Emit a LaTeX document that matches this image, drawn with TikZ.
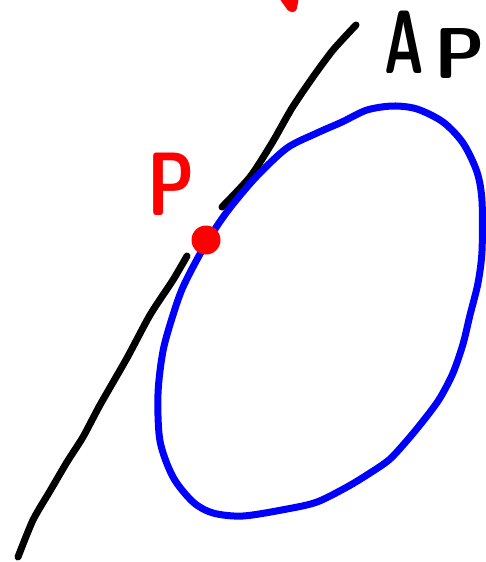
\documentclass[tikz,border=0pt]{standalone}
\usepackage{tikz}
\usetikzlibrary{positioning}

\begin{document}
\begin{tikzpicture}[x=1pt,y=-1pt,
  pen/.style={line width=7pt,line cap=round,line join=round},
  hand/.style={inner sep=0pt,font=\fontsize{90}{90}\selectfont\sffamily\bfseries}]
  \useasboundingbox (0,0) rectangle (485,562);
  % tangent line, broken at the point
  \draw[pen] plot[smooth,tension=0.4] coordinates {(18,557) (33,520) (50,491) (67,462)
    (83,437) (100,405) (127,358) (150,315) (173,280) (187,256)};
  \draw[pen] plot[smooth,tension=0.4] coordinates {(222,207) (250,177) (272,143)
    (292,108) (313,77) (333,50) (356,25)};
  % curve
  \draw[pen,blue] plot[smooth cycle,tension=0.5] coordinates {(393,106) (417,109)
    (443,122) (463,143) (477,172) (482,201) (482,251) (478,283) (470,315) (463,344)
    (453,373) (440,398) (427,416) (410,437) (390,459) (370,473) (347,487) (317,502)
    (287,509) (243,516) (213,513) (193,502) (173,477) (160,441) (158,394) (163,351)
    (173,315) (183,287) (200,254) (217,226) (233,204) (257,176) (287,148) (317,133)
    (342,122) (367,110)};
  % point and labels
  \node[circle,fill=red,minimum size=29pt,inner sep=0pt] (P) at (206,240) {};
  \node[hand,red,anchor=base west] (Plbl) at (147,215) {\scalebox{0.75}[1]{P}};
  \node[hand,anchor=base west] (Albl) at (384,73)
    {\scalebox{0.6}[1]{A}\hspace{11pt}\raisebox{-5pt}{\fontsize{72}{72}\selectfont P}};
  % red mark cut off at the top
  \fill[red,rounded corners=3pt] (279,-2) -- (289,12) -- (296,12) -- (299,-2) -- cycle;
\end{tikzpicture}
\end{document}
